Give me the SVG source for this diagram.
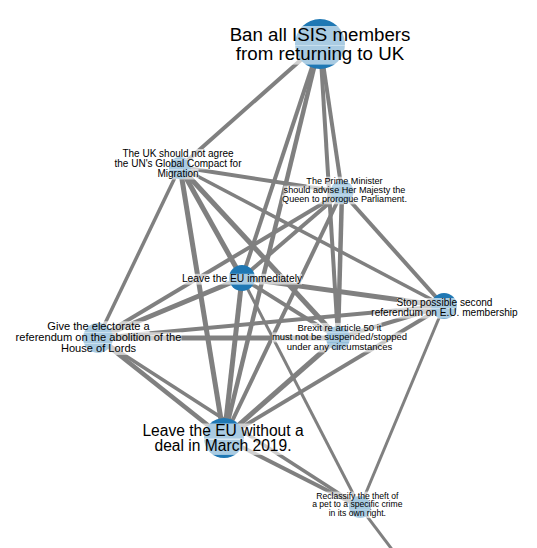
<svg xmlns="http://www.w3.org/2000/svg" width="537" height="548" viewBox="0 0 537 548">
<style>
.e{stroke:#808080;fill:none}
.n{fill:#1f78b4}
.bg{fill:#fff;fill-opacity:0.62}
text{font-family:"Liberation Sans",Arial,sans-serif;text-anchor:middle;fill:#000}
</style>
<rect width="537" height="548" fill="#fff"/>
<g id="edges">
<line class="e" x1="320" y1="43" x2="180" y2="167" stroke-width="4"/>
<line class="e" x1="320" y1="43" x2="242" y2="278" stroke-width="4"/>
<line class="e" x1="320" y1="43" x2="224" y2="438" stroke-width="4.5"/>
<line class="e" x1="320" y1="43" x2="342" y2="192" stroke-width="4"/>
<line class="e" x1="320" y1="43" x2="338" y2="338" stroke-width="4"/>
<line class="e" x1="180" y1="167" x2="342" y2="192" stroke-width="4"/>
<line class="e" x1="180" y1="167" x2="444" y2="306" stroke-width="3.5"/>
<line class="e" x1="180" y1="167" x2="242" y2="278" stroke-width="5"/>
<line class="e" x1="180" y1="167" x2="338" y2="338" stroke-width="5"/>
<line class="e" x1="180" y1="167" x2="224" y2="438" stroke-width="5"/>
<line class="e" x1="180" y1="167" x2="98" y2="338" stroke-width="3.5"/>
<line class="e" x1="342" y1="192" x2="242" y2="278" stroke-width="4"/>
<line class="e" x1="342" y1="192" x2="444" y2="306" stroke-width="4"/>
<line class="e" x1="342" y1="192" x2="338" y2="338" stroke-width="4.5"/>
<line class="e" x1="342" y1="192" x2="224" y2="438" stroke-width="4"/>
<line class="e" x1="342" y1="192" x2="98" y2="338" stroke-width="4"/>
<line class="e" x1="242" y1="278" x2="444" y2="306" stroke-width="5"/>
<line class="e" x1="242" y1="278" x2="98" y2="338" stroke-width="5"/>
<line class="e" x1="242" y1="278" x2="338" y2="338" stroke-width="4"/>
<line class="e" x1="242" y1="278" x2="224" y2="438" stroke-width="5"/>
<line class="e" x1="242" y1="278" x2="360" y2="507" stroke-width="3"/>
<line class="e" x1="444" y1="306" x2="98" y2="338" stroke-width="4"/>
<line class="e" x1="444" y1="306" x2="338" y2="338" stroke-width="4"/>
<line class="e" x1="444" y1="306" x2="224" y2="438" stroke-width="4"/>
<line class="e" x1="444" y1="306" x2="360" y2="507" stroke-width="3"/>
<line class="e" x1="98" y1="338" x2="338" y2="338" stroke-width="5"/>
<line class="e" x1="98" y1="338" x2="224" y2="438" stroke-width="4.5"/>
<line class="e" x1="98" y1="338" x2="360" y2="507" stroke-width="3.5"/>
<line class="e" x1="338" y1="338" x2="224" y2="438" stroke-width="5"/>
<line class="e" x1="224" y1="438" x2="360" y2="507" stroke-width="4"/>
<line class="e" x1="360" y1="507" x2="400" y2="560" stroke-width="3"/>
</g>
<g id="n-isis">
<circle class="n" cx="320" cy="44" r="25"/>
<rect class="bg" x="229.5" y="26" width="181" height="19.6"/>
<rect class="bg" x="236" y="45" width="168" height="19.6"/>
<text font-size="18.7"><tspan x="320" y="41">Ban all ISIS members</tspan><tspan x="320" y="60">from returning to UK</tspan></text>
</g>
<g id="n-compact">
<circle class="n" cx="180" cy="168" r="11"/>
<rect class="bg" x="122.5" y="149" width="111" height="10.5"/>
<rect class="bg" x="114.5" y="159" width="127" height="10.5"/>
<rect class="bg" x="157.5" y="169" width="41" height="10.5"/>
<text font-size="10"><tspan x="178" y="157">The UK should not agree</tspan><tspan x="178" y="167">the UN's Global Compact for</tspan><tspan x="178" y="177">Migration</tspan></text>
</g>
<g id="n-prorogue">
<circle class="n" cx="342" cy="192" r="11.5"/>
<rect class="bg" x="306.5" y="176.7" width="76" height="9.6"/>
<rect class="bg" x="283.5" y="185.7" width="122" height="9.6"/>
<rect class="bg" x="282" y="194.7" width="125" height="9.6"/>
<text font-size="9.1"><tspan x="344.5" y="184">The Prime Minister</tspan><tspan x="344.5" y="193">should advise Her Majesty the</tspan><tspan x="344.5" y="202">Queen to prorogue Parliament.</tspan></text>
</g>
<g id="n-leave-now">
<circle class="n" cx="242" cy="278" r="13"/>
<rect class="bg" x="182" y="273.8" width="120" height="10.8"/>
<text font-size="10.3" x="242" y="282">Leave the EU immediately</text>
</g>
<g id="n-second-ref">
<circle class="n" cx="444" cy="306" r="13"/>
<rect class="bg" x="397" y="298" width="95" height="10.6"/>
<rect class="bg" x="372" y="308" width="145" height="10.6"/>
<text font-size="10.1"><tspan x="444.5" y="306">Stop possible second</tspan><tspan x="444.5" y="316">referendum on E.U. membership</tspan></text>
</g>
<g id="n-lords">
<circle class="n" cx="98" cy="338" r="15"/>
<rect class="bg" x="47.5" y="321.2" width="102" height="11.7"/>
<rect class="bg" x="15.5" y="332.2" width="166" height="11.7"/>
<rect class="bg" x="61" y="343.2" width="75" height="11.7"/>
<text font-size="11.1"><tspan x="98.5" y="330">Give the electorate a</tspan><tspan x="98.5" y="341">referendum on the abolition of the</tspan><tspan x="98.5" y="352">House of Lords</tspan></text>
</g>
<g id="n-article50">
<circle class="n" cx="338" cy="338" r="12"/>
<rect class="bg" x="297.5" y="322.9" width="84" height="10"/>
<rect class="bg" x="272" y="332.4" width="135" height="10"/>
<rect class="bg" x="287" y="342.4" width="105.6" height="10"/>
<text font-size="9.5"><tspan x="339.5" y="330.5">Brexit re article 50 it</tspan><tspan x="339.5" y="340">must not be suspended/stopped</tspan><tspan x="339.5" y="350">under any circumstances</tspan></text>
</g>
<g id="n-no-deal">
<circle class="n" cx="224" cy="438" r="20"/>
<rect class="bg" x="142.5" y="423.5" width="161" height="16.4"/>
<rect class="bg" x="154.5" y="438.5" width="137" height="16.4"/>
<text font-size="15.6"><tspan x="223" y="436">Leave the EU without a</tspan><tspan x="223" y="451">deal in March 2019.</tspan></text>
</g>
<g id="n-pet">
<circle class="n" cx="360" cy="507" r="11"/>
<rect class="bg" x="316.3" y="491.6" width="82" height="9"/>
<rect class="bg" x="312.3" y="500.4" width="90" height="9"/>
<rect class="bg" x="328.8" y="509.1" width="57" height="9"/>
<text font-size="8.6"><tspan x="357.3" y="498.5">Reclassify the theft of</tspan><tspan x="357.3" y="507.3">a pet to a specific crime</tspan><tspan x="357.3" y="516">in its own right.</tspan></text>
</g>
</svg>
